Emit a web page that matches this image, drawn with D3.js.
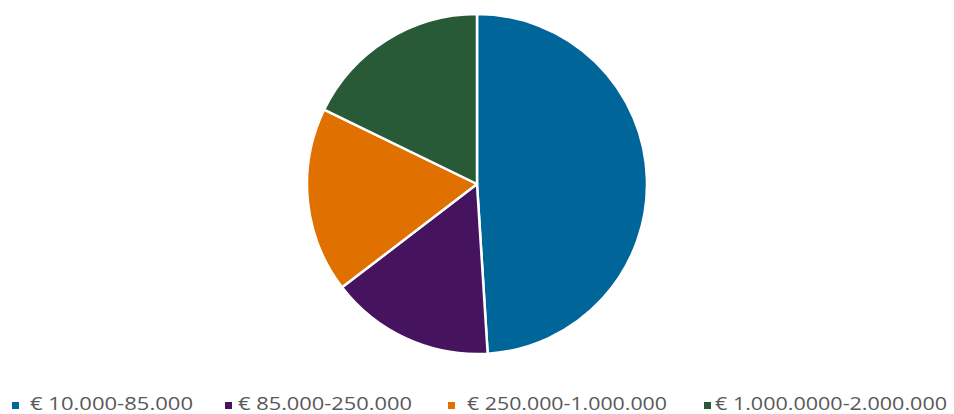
<!DOCTYPE html>
<html>
<head>
<meta charset="utf-8">
<script src="https://cdn.jsdelivr.net/npm/d3@7"></script>
<style>
  body { margin: 0; background: #fff; }
  svg { display: block; }
</style>
</head>
<body>
<svg id="chart" width="954" height="414"></svg>
<script>
// slices, clockwise from 12 o'clock (share in %)
const categories = ["€ 10.000-85.000", "€ 85.000-250.000", "€ 250.000-1.000.000", "€ 1.000.0000-2.000.000"];
const values = [49.0, 15.6, 17.6, 17.8];
const colors = ["#006699", "#46135f", "#e07000", "#295a38"];
// legend layout measured off the original (not evenly spaced there)
const legendMarkX = [12, 225, 448, 704];
const legendTextX = [30, 238, 467, 715];
const legendTextW = [163, 174, 200, 232];

const width = 954, height = 414;
const cx = 477, cy = 184, radius = 170;

const data = categories.map((c, i) => ({name: c, value: values[i], color: colors[i], i: i}));

const svg = d3.select("#chart");

const pie = d3.pie().sort(null).value(d => d.value);
const arc = d3.arc().innerRadius(0).outerRadius(radius);

svg.append("g")
    .attr("transform", `translate(${cx},${cy})`)
    .selectAll("path")
    .data(pie(data))
    .enter()
    .append("path")
    .attr("d", arc)
    .style("fill", d => d.data.color)
    .style("stroke", "#fff")
    .style("stroke-width", 2.5)
    .style("stroke-linejoin", "round");

const legend = svg.append("g").attr("class", "legend");
const item = legend.selectAll(".item")
    .data(data)
    .enter()
    .append("g")
    .attr("class", "item");

item.append("rect")
    .attr("x", d => legendMarkX[d.i])
    .attr("y", 402)
    .attr("width", 7)
    .attr("height", 7)
    .style("fill", d => d.color);

// glyphs are stretched a bit to get the wide look of the original font
item.append("text")
    .attr("x", d => legendTextX[d.i])
    .attr("y", 410)
    .attr("textLength", d => legendTextW[d.i])
    .attr("lengthAdjust", "spacingAndGlyphs")
    .style("font-family", "'Open Sans', sans-serif")
    .style("font-size", "17.5px")
    .style("fill", "#595959")
    .text(d => d.name);
</script>
</body>
</html>
